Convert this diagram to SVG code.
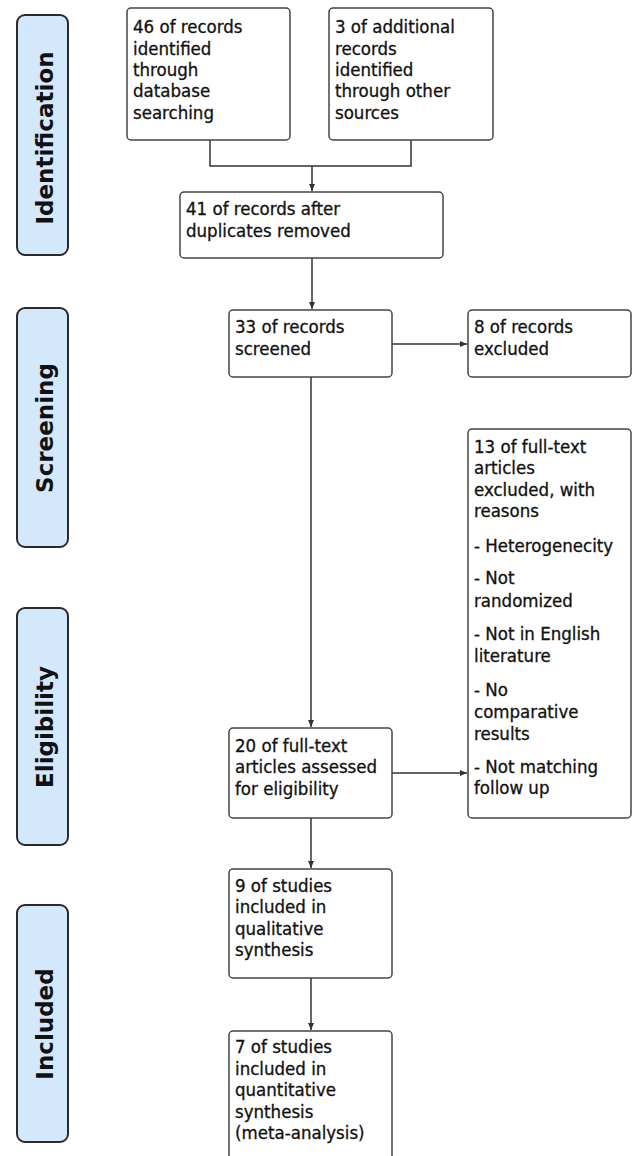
<svg xmlns="http://www.w3.org/2000/svg" width="633" height="1156" viewBox="0 0 633 1156">
<style>
.stage{fill:#d3e8fb;stroke:#2a2a2a;stroke-width:2}
.stxt{font-family:"DejaVu Sans",sans-serif;font-weight:bold;font-size:23px;fill:#111;text-anchor:middle}
.box{fill:#fff;stroke:#444;stroke-width:1.5}
.t{font-family:"DejaVu Sans Condensed","DejaVu Sans",sans-serif;font-size:18.5px;fill:#111;stroke:#111;stroke-width:0.3}
.c{fill:none;stroke:#333;stroke-width:1.5}
</style>
<defs>
<marker id="ah" markerUnits="userSpaceOnUse" markerWidth="8" markerHeight="7" refX="7" refY="3" orient="auto">
<path d="M0,0 L7,3 L0,6 z" fill="#333"/>
</marker>
</defs>
<g id="stage-identification"><rect class="stage" x="17" y="15" width="51" height="240" rx="8"/><text class="stxt" transform="translate(53,138) rotate(-90)">Identification</text></g>
<g id="stage-screening"><rect class="stage" x="17" y="308" width="51" height="239" rx="8"/><text class="stxt" transform="translate(53,428) rotate(-90)">Screening</text></g>
<g id="stage-eligibility"><rect class="stage" x="17" y="608" width="51" height="237" rx="8"/><text class="stxt" transform="translate(53,727) rotate(-90)">Eligibility</text></g>
<g id="stage-included"><rect class="stage" x="17" y="905" width="51" height="237" rx="8"/><text class="stxt" transform="translate(53,1024) rotate(-90)">Included</text></g>

<g id="connectors">
<path class="c" d="M210,140 V166 H411 V140"/>
<path class="c" d="M312,166 V191" marker-end="url(#ah)"/>
<path class="c" d="M312,258 V309" marker-end="url(#ah)"/>
<path class="c" d="M392,344 H467" marker-end="url(#ah)"/>
<path class="c" d="M311,377 V727" marker-end="url(#ah)"/>
<path class="c" d="M392,773 H467" marker-end="url(#ah)"/>
<path class="c" d="M311,818 V868" marker-end="url(#ah)"/>
<path class="c" d="M311,978 V1030" marker-end="url(#ah)"/>
</g>

<g id="n-db"><rect class="box" x="127" y="8" width="163" height="132" rx="4"/>
<text class="t" x="133" y="33">46 of records</text><text class="t" x="133" y="54.5">identified</text><text class="t" x="133" y="76">through</text><text class="t" x="133" y="97">database</text><text class="t" x="133" y="118.5">searching</text></g>
<g id="n-other"><rect class="box" x="329" y="8" width="164" height="132" rx="4"/>
<text class="t" x="335" y="33">3 of additional</text><text class="t" x="335" y="54.5">records</text><text class="t" x="335" y="76">identified</text><text class="t" x="335" y="97">through other</text><text class="t" x="335" y="118.5">sources</text></g>
<g id="n-dup"><rect class="box" x="180" y="192" width="263" height="66" rx="4"/>
<text class="t" x="186" y="215">41 of records after</text><text class="t" x="186" y="236.5">duplicates removed</text></g>
<g id="n-screened"><rect class="box" x="229" y="310" width="163" height="67" rx="4"/>
<text class="t" x="235" y="333">33 of records</text><text class="t" x="235" y="354.5">screened</text></g>
<g id="n-excluded"><rect class="box" x="468" y="310" width="163" height="67" rx="4"/>
<text class="t" x="474" y="333">8 of records</text><text class="t" x="474" y="354.5">excluded</text></g>
<g id="n-ftexcluded"><rect class="box" x="468" y="429" width="163" height="389" rx="4"/>
<text class="t" x="474" y="452.5">13 of full-text</text><text class="t" x="474" y="474">articles</text><text class="t" x="474" y="495.5">excluded, with</text><text class="t" x="474" y="517">reasons</text>
<text class="t" x="474" y="551.5">- Heterogenecity</text>
<text class="t" x="474" y="583.5">- Not</text><text class="t" x="474" y="606.5">randomized</text>
<text class="t" x="474" y="640">- Not in English</text><text class="t" x="474" y="661.5">literature</text>
<text class="t" x="474" y="696">- No</text><text class="t" x="474" y="717.5">comparative</text><text class="t" x="474" y="739.5">results</text>
<text class="t" x="474" y="772.5">- Not matching</text><text class="t" x="474" y="794">follow up</text></g>
<g id="n-assessed"><rect class="box" x="229" y="728" width="163" height="90" rx="4"/>
<text class="t" x="235" y="751.5">20 of full-text</text><text class="t" x="235" y="773">articles assessed</text><text class="t" x="235" y="794.5">for eligibility</text></g>
<g id="n-qual"><rect class="box" x="229" y="869" width="163" height="109" rx="4"/>
<text class="t" x="235" y="891.5">9 of studies</text><text class="t" x="235" y="913">included in</text><text class="t" x="235" y="934.5">qualitative</text><text class="t" x="235" y="956">synthesis</text></g>
<g id="n-quant"><rect class="box" x="229" y="1031" width="163" height="150" rx="4"/>
<text class="t" x="235" y="1053">7 of studies</text><text class="t" x="235" y="1074.5">included in</text><text class="t" x="235" y="1096">quantitative</text><text class="t" x="235" y="1117.5">synthesis</text><text class="t" x="235" y="1139">(meta-analysis)</text></g>
</svg>
